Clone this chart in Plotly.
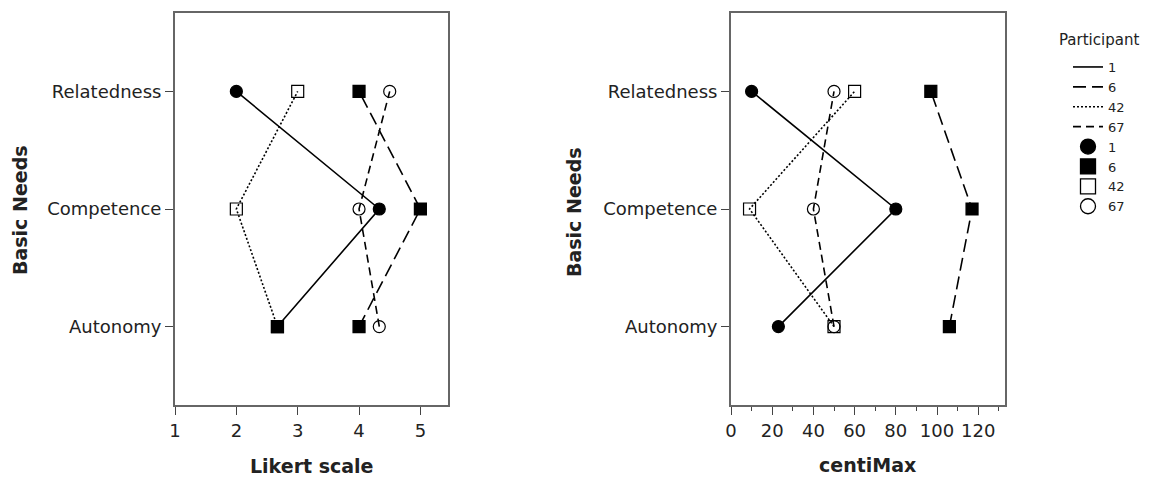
import plotly.graph_objects as go

W, H = 1158, 479

# ---------------- data ----------------
needs = ["Autonomy", "Competence", "Relatedness"]
need_pos = [1, 2, 3]
participants = ["1", "6", "42", "67"]

likert_p1 = [2.67, 4.33, 2.0]
likert_p6 = [4.0, 5.0, 4.0]
likert_p42 = [2.67, 2.0, 3.0]
likert_p67 = [4.33, 4.0, 4.5]

centimax_p1 = [23, 80, 10]
centimax_p6 = [106, 117, 97]
centimax_p42 = [50, 9, 60]
centimax_p67 = [50, 40, 50]

likert_ticks = [1, 2, 3, 4, 5]
centimax_ticks = [0, 20, 40, 60, 80, 100, 120]

likert = {"1": likert_p1, "6": likert_p6, "42": likert_p42, "67": likert_p67}
centimax = {"1": centimax_p1, "6": centimax_p6, "42": centimax_p42, "67": centimax_p67}

# ---------------- styles ----------------
FONT = "DejaVu Sans"
dashes = {"1": "solid", "6": "13px,6px", "42": "2px,2px", "67": "8px,5px"}
symbols = {"1": "circle", "6": "square", "42": "square-open", "67": "circle-open"}
# the reference shows a filled square where participants 1 and 42 coincide
left_symbols = {"1": ["square", "circle", "circle"]}

fig = go.Figure()

def add_panel(values, xa, ya, show_legend, override=None):
    for p in participants:
        fig.add_trace(go.Scatter(
            x=values[p], y=need_pos, mode="lines", xaxis=xa, yaxis=ya,
            line=dict(color="black", width=1.6, dash=dashes[p]),
            name=p, showlegend=show_legend, legendrank=10 + participants.index(p),
            hoverinfo="skip"))
    for p in participants:
        sym = symbols[p]
        if override and p in override:
            sym = override[p]
        fig.add_trace(go.Scatter(
            x=values[p], y=need_pos, mode="markers", xaxis=xa, yaxis=ya,
            marker=dict(symbol=sym, size=12, color="black",
                        line=dict(color="black", width=1.2)),
            showlegend=False, hoverinfo="skip"))

add_panel(likert, "x", "y", True, left_symbols)
add_panel(centimax, "x2", "y2", False)

# legend entries for markers
for p in participants:
    fig.add_trace(go.Scatter(
        x=[None], y=[None], mode="markers", xaxis="x", yaxis="y",
        marker=dict(symbol=symbols[p], size=15, color="black",
                    line=dict(color="black", width=1.3)),
        name=p, showlegend=True, legendrank=20 + participants.index(p)))

def px_x(px):
    return px / W

def px_y(py):
    return 1 - py / H

axis_common = dict(
    showline=True, linecolor="#666", linewidth=2, mirror=True,
    ticks="outside", ticklen=8, tickwidth=1.4, tickcolor="#444",
    showgrid=False, zeroline=False, automargin=False,
    tickfont=dict(family=FONT, size=18, color="#222"),
)

ydom = [px_y(405), px_y(13)]

fig.update_layout(
    width=W, height=H,
    margin=dict(l=0, r=0, t=0, b=0, autoexpand=False),
    paper_bgcolor="white", plot_bgcolor="white",
    font=dict(family=FONT, color="#222"),
    xaxis=dict(domain=[px_x(175), px_x(448)], range=[1, 5.45],
               tickvals=likert_ticks, anchor="y", **axis_common),
    yaxis=dict(domain=ydom, range=[1 / 3, 3 + 2 / 3],
               tickvals=need_pos, ticktext=needs, anchor="x", **axis_common),
    xaxis2=dict(domain=[px_x(731), px_x(1005)], range=[0, 133],
                tickvals=centimax_ticks, anchor="y2",
                minor=dict(dtick=10, tick0=0, ticks="outside", ticklen=4,
                           tickcolor="#444", tickwidth=1.2),
                **axis_common),
    yaxis2=dict(domain=ydom, range=[1 / 3, 3 + 2 / 3],
                tickvals=need_pos, ticktext=needs, anchor="x2", **axis_common),
    legend=dict(x=px_x(1068), y=px_y(52), xanchor="left", yanchor="top",
                font=dict(family=FONT, size=13, color="#222"),
                bgcolor="rgba(0,0,0,0)", tracegroupgap=0,
                itemwidth=30, traceorder="normal"),
    showlegend=True,
)

title_font = dict(family=FONT, size=19, color="#222", weight="bold")
annotations = [
    dict(text="Basic Needs", x=px_x(20), y=px_y(210), textangle=-90),
    dict(text="Basic Needs", x=px_x(574), y=px_y(212), textangle=-90),
    dict(text="Likert scale", x=px_x(312), y=px_y(466)),
    dict(text="centiMax", x=px_x(867), y=px_y(465)),
]
for a in annotations:
    fig.add_annotation(xref="paper", yref="paper", showarrow=False,
                       xanchor="center", yanchor="middle", font=title_font, **a)

fig.add_annotation(xref="paper", yref="paper", showarrow=False,
                   text="Participant", x=px_x(1057), y=px_y(40),
                   xanchor="left", yanchor="middle",
                   font=dict(family=FONT, size=15, color="#222"))

fig.write_html("out.html")
